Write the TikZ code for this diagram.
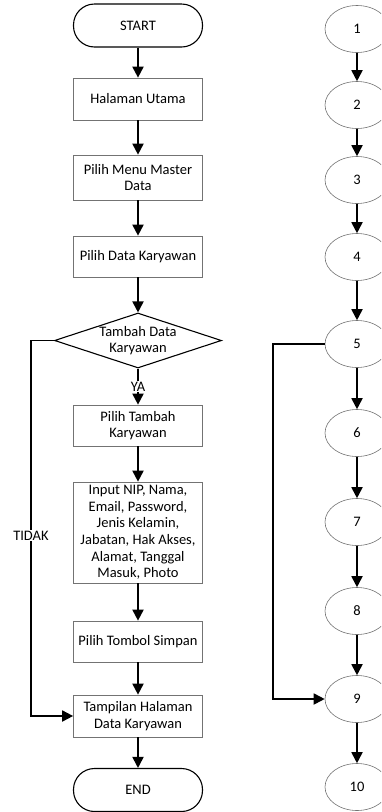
\documentclass[tikz,border=0pt]{standalone}
\usepackage{fontspec}
\setmainfont{Carlito}
\usetikzlibrary{shapes.geometric,arrows.meta,positioning}

\begin{document}
\begin{tikzpicture}[x=1pt,y=-1pt,
  font=\fontsize{14.5}{16.7}\selectfont,
  proses/.style={draw=black!55,line width=0.7pt,minimum width=129pt,inner sep=0pt,align=center},
  terminal/.style={draw,line width=1.1pt,rounded corners=21pt,minimum width=129pt,minimum height=43pt},
  keputusan/.style={draw,diamond,line width=1.1pt,minimum width=167pt,minimum height=55pt,inner sep=0pt},
  simpul/.style={draw=black!55,ellipse,line width=0.6pt,minimum width=64pt,minimum height=47pt,inner sep=0pt},
  panah/.style={line width=1.8pt,-{Triangle[width=11pt,length=11pt]}},
  ket/.style={fill=white,inner sep=1pt}]
\clip (0,0) rectangle (381,812);
% flowchart
\node[terminal] (start) at (138,25.5) {START};
\node[proses,minimum height=42pt] (hal) at (138,99) {Halaman Utama};
\node[proses,minimum height=45pt] (menu) at (138,177.5) {Pilih Menu Master\\Data};
\node[proses,minimum height=41pt] (pilih) at (138,256.5) {Pilih Data Karyawan};
\node[keputusan] (tambah) at (138,340.5) {};
\node (tambahtxt) at (138,340.5) [align=center] {Tambah Data\\Karyawan};
\node[proses,minimum height=41pt] (ptambah) at (138,425.5) {Pilih Tambah\\Karyawan};
\node[proses,minimum height=101pt] (input) at (138,532.5) {Input NIP, Nama,\\Email, Password,\\Jenis Kelamin,\\Jabatan, Hak Akses,\\Alamat, Tanggal\\Masuk, Photo};
\node[proses,minimum height=41pt] (simpan) at (138,641.5) {Pilih Tombol Simpan};
\node[proses,minimum height=42pt] (tampil) at (138,716) {Tampilan Halaman\\Data Karyawan};
\node[terminal] (end) at (138,790) {END};

\draw[panah] (start) -- (hal);
\draw[panah] (hal) -- (menu);
\draw[panah] (menu) -- (pilih);
\draw[panah] (pilih) -- (tambah);
\draw[panah] (tambah) -- node[ket,pos=0.5]{YA} (ptambah);
\draw[panah] (ptambah) -- (input);
\draw[panah] (input) -- (simpan);
\draw[panah] (simpan) -- (tampil);
\draw[panah] (tampil) -- (end);
\draw[panah] (tambah.west) -- ++(-23,0) |- node[ket,pos=0.26]{TIDAK} (tampil.west);

% flowgraph
\node[simpul] (n1) at (357,29) {1};
\node[simpul] (n2) at (357,105) {2};
\node[simpul] (n3) at (357,180) {3};
\node[simpul] (n4) at (357,257) {4};
\node[simpul] (n5) at (357,344) {5};
\node[simpul] (n6) at (357,433) {6};
\node[simpul] (n7) at (357,522) {7};
\node[simpul] (n8) at (357,611) {8};
\node[simpul] (n9) at (357,699) {9};
\node[simpul] (n10) at (357,787) {10};

\draw[panah] (n1) -- (n2);
\draw[panah] (n2) -- (n3);
\draw[panah] (n3) -- (n4);
\draw[panah] (n4) -- (n5);
\draw[panah] (n5) -- (n6);
\draw[panah] (n6) -- (n7);
\draw[panah] (n7) -- (n8);
\draw[panah] (n8) -- (n9);
\draw[panah] (n9) -- (n10);
\draw[panah] (n5.west) -- ++(-52,0) |- (n9.west);
\end{tikzpicture}
\end{document}
